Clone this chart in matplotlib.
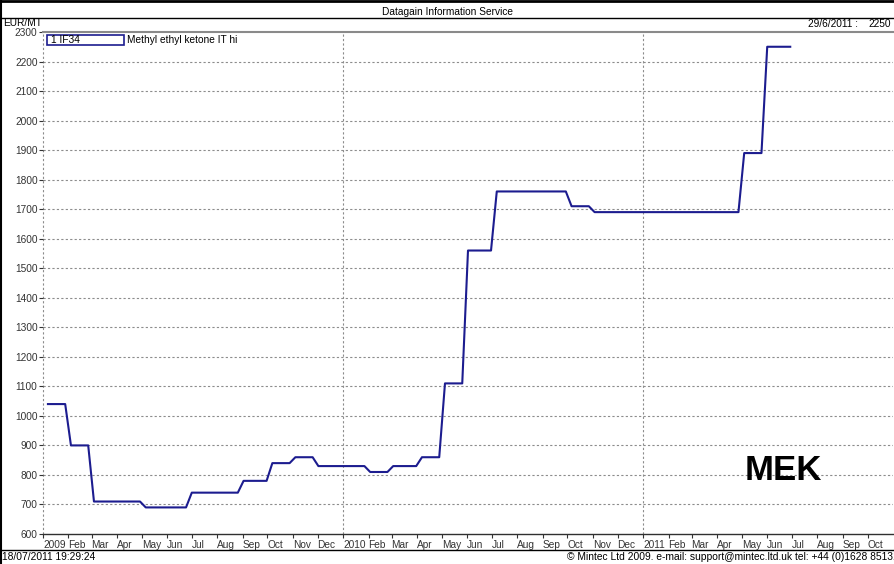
import matplotlib
matplotlib.use("Agg")
import matplotlib.pyplot as plt
from matplotlib.lines import Line2D
from matplotlib.patches import Rectangle
import pandas as pd

plt.rcParams["font.family"] = ["Liberation Sans", "DejaVu Sans"]

# corner points of the weekly MEK price line, EUR/MT
dates = ["2009-01-07", "2009-01-28", "2009-02-04", "2009-02-25", "2009-03-04",
         "2009-04-29", "2009-05-06", "2009-06-24", "2009-07-01", "2009-08-26",
         "2009-09-02", "2009-09-30", "2009-10-07", "2009-10-28", "2009-11-04",
         "2009-11-25", "2009-12-02", "2010-01-27", "2010-02-03", "2010-02-24",
         "2010-03-03", "2010-03-31", "2010-04-07", "2010-04-28", "2010-05-05",
         "2010-05-26", "2010-06-02", "2010-06-30", "2010-07-07", "2010-09-29",
         "2010-10-06", "2010-10-27", "2010-11-03", "2011-04-27", "2011-05-04",
         "2011-05-25", "2011-06-01", "2011-06-29"]
values = [1040, 1040, 900, 900, 710,
          710, 690, 690, 740, 740,
          780, 780, 840, 840, 860,
          860, 830, 830, 810, 810,
          830, 830, 860, 860, 1110,
          1110, 1560, 1560, 1760, 1760,
          1710, 1710, 1690, 1690, 1890,
          1890, 2250, 2250]

month_names = ["Jan", "Feb", "Mar", "Apr", "May", "Jun",
               "Jul", "Aug", "Sep", "Oct", "Nov", "Dec"]
y_ticks = list(range(600, 2301, 100))
year_lines = ["2009-01-01", "2010-01-01", "2011-01-01"]

series_code = "1 IF34"
series_name = "Methyl ethyl ketone IT hi"
last_date = "29/6/2011 :"
last_value = "2250"

W, H = 894, 564
line_color = "#1c1c8f"
grid_color = "#8c8c8c"
fs = 7.3


def fx(px):
    return px / W


def fy(py):
    return 1 - py / H


fig = plt.figure(figsize=(W / 100, H / 100), dpi=100)
fig.patch.set_facecolor("white")

ax = fig.add_axes([fx(43), fy(534), fx(893) - fx(43), fy(32) - fy(534)])
ax.set_facecolor("white")

x = pd.to_datetime(dates)
ax.plot(x, values, color=line_color, lw=1.5, zorder=3)

ax.set_xlim(pd.Timestamp("2009-01-01"), pd.Timestamp("2011-11-01"))
ax.set_ylim(600, 2300)

# horizontal dotted grid
for v in y_ticks[1:-1]:
    ax.axhline(v, color=grid_color, lw=0.8, ls=(0, (2, 2)), zorder=1)
# vertical lines on year boundaries
for d in year_lines:
    ax.axvline(pd.Timestamp(d), color=grid_color, lw=0.8, ls=(0, (2, 2)),
               zorder=1, clip_on=False)

ax.set_yticks(y_ticks)
ax.set_yticklabels([str(v) for v in y_ticks])

month_starts = pd.date_range("2009-01-01", "2011-10-01", freq="MS")
month_labels = [str(d.year) if d.month == 1 else month_names[d.month - 1]
                for d in month_starts]
ax.set_xticks(month_starts)
ax.set_xticklabels(month_labels)
plt.setp(ax.get_xticklabels(), ha="left")

ax.tick_params(axis="both", direction="out", length=3, width=0.8,
               colors="#333333", labelsize=fs, pad=1)

ax.spines["left"].set_visible(False)
ax.spines["right"].set_visible(False)
ax.spines["top"].set_color("#8a8a8a")
ax.spines["top"].set_linewidth(1.5)
ax.spines["bottom"].set_color("#303030")
ax.spines["bottom"].set_linewidth(1)

# legend box
fig.add_artist(Rectangle((fx(47), fy(45)), fx(124) - fx(47), fy(35) - fy(45),
                         transform=fig.transFigure, fill=False,
                         edgecolor=line_color, lw=1.2))
fig.text(fx(51), fy(40), series_code, fontsize=fs, va="center", ha="left")
fig.text(fx(127), fy(40), series_name, fontsize=fs, va="center", ha="left")

# frame lines of the report
fig.add_artist(Line2D([0, 1], [fy(1), fy(1)], transform=fig.transFigure,
                      color="black", lw=2))
fig.add_artist(Line2D([0, 1], [fy(18), fy(18)], transform=fig.transFigure,
                      color="black", lw=1))
fig.add_artist(Line2D([0, 1], [fy(550), fy(550)], transform=fig.transFigure,
                      color="black", lw=1))
fig.add_artist(Line2D([fx(0.5), fx(0.5)], [0, 1], transform=fig.transFigure,
                      color="black", lw=1.5))

fig.text(0.5, fy(12), "Datagain Information Service", fontsize=fs,
         ha="center", va="center")
fig.text(fx(3), fy(23), "EUR/MT", fontsize=fs, ha="left", va="center")
fig.text(fx(808), fy(24), last_date, fontsize=fs, ha="left", va="center")
fig.text(fx(891), fy(24), last_value, fontsize=fs, ha="right", va="center")

fig.text(fx(2), fy(557), "18/07/2011 19:29:24", fontsize=7.4,
         ha="left", va="center")
fig.text(fx(567), fy(557),
         "\u00a9 Mintec Ltd 2009. e-mail: support@mintec.ltd.uk tel: +44 (0)1628 851313",
         fontsize=7.4, ha="left", va="center")

fig.text(fx(783), fy(471), "MEK", fontsize=25, fontweight="bold",
         ha="center", va="center")

fig.savefig("out.png", dpi=100)
